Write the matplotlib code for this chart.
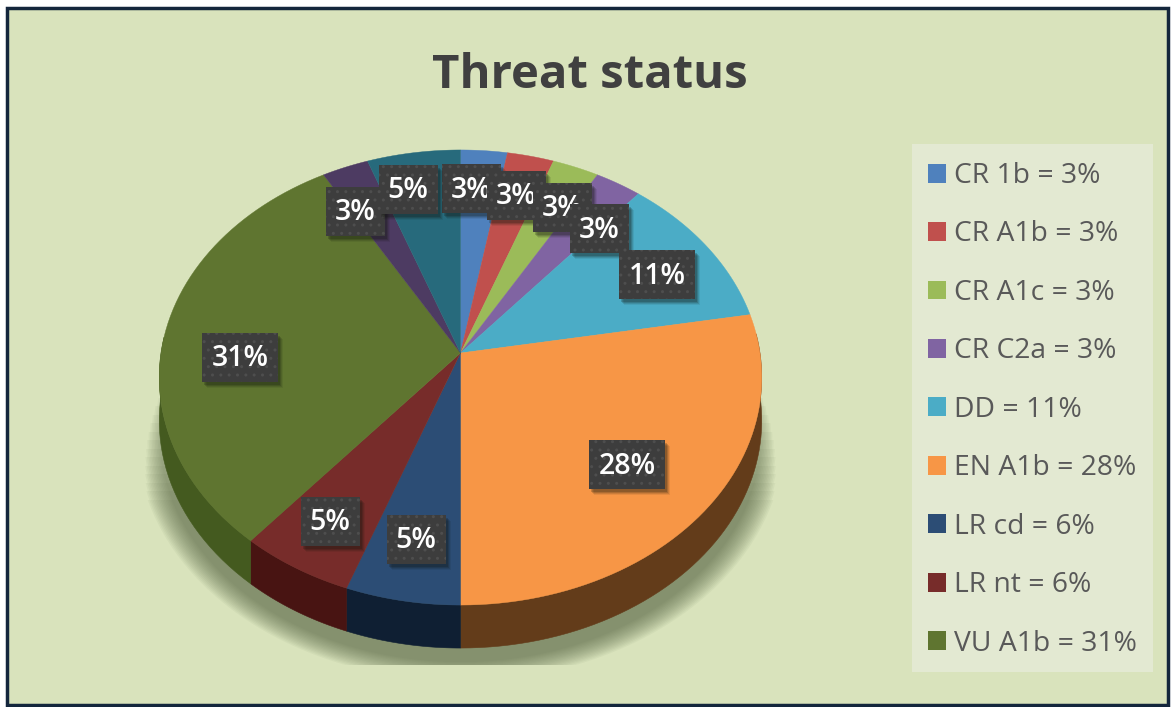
import numpy as np
import matplotlib
matplotlib.use("Agg")
import matplotlib.pyplot as plt
from matplotlib.patches import Rectangle, Patch

plt.rcParams['font.family'] = ['Open Sans', 'DejaVu Sans']

# pie slices, clockwise from the top (counts behind the percentages)
counts = [1, 1, 1, 1, 4, 10, 2, 2, 11, 1, 2]
pie_labels = ["3%", "3%", "3%", "3%", "11%", "28%", "5%", "5%", "31%", "3%", "5%"]
colors = ["#4f81bd", "#c0504d", "#9bbb59", "#8064a2", "#4bacc6", "#f79646",
          "#2c4d75", "#772c2a", "#5f7530", "#4d3b62", "#276a7c"]
wall_colors = ["#2a4566", "#652a28", "#55662f", "#453758", "#28606e", "#633c1a",
               "#0f1f33", "#481412", "#445a1f", "#2b2038", "#143c48"]

# label box centres in pixels
label_x = [471, 516, 562, 599, 657, 627, 416, 330, 240, 355, 408]
label_y = [188, 195, 207, 228, 274, 464, 539, 521, 357, 211, 189]

legend_names = ["CR 1b = 3%", "CR A1b = 3%", "CR A1c = 3%", "CR C2a = 3%", "DD = 11%",
                "EN A1b = 28%", "LR cd = 6%", "LR nt = 6%", "VU A1b = 31%"]

# pie geometry, perspective tilted disc
cx, cy = 460.5, 353
R, A, b = 299.5, 224.9, 0.1077
depth = 43


def rim(t):
    # t is the clockwise angle from the top, in radians
    d = 1 + b * np.cos(t)
    return cx + R * np.sin(t) / d, cy - A * np.cos(t) / d


fig = plt.figure(figsize=(11.72, 7.07), dpi=100, facecolor="white")
ax = fig.add_axes([0, 0, 1, 1])
ax.set_xlim(0, 1172)
ax.set_ylim(707, 0)
ax.axis("off")

# background panel
ax.add_patch(Rectangle((7, 8), 1161, 697, facecolor="#d9e3bc", edgecolor="#14263c", linewidth=2.5, zorder=0))

# soft shadow under the pie, outer layers start lower so the sides fade out upward
tt = np.linspace(0, 2 * np.pi, 240)
sx, sy = rim(tt)
for grow, top in zip(np.linspace(1.075, 1.0, 16), np.linspace(500, 372, 16)):
    shadow = ax.fill(cx + (sx - cx) * grow, cy + depth + (sy - cy) * grow + 14, color="#4e5a3c", alpha=0.05,
                     linewidth=0, zorder=1)[0]
    shadow.set_clip_path(Rectangle((0, top), 1172, 665 - top, transform=ax.transData))

edges = np.cumsum([0] + counts) / sum(counts) * 2 * np.pi

# side wall, only the near half of the rim shows
for i in range(len(counts)):
    t = np.linspace(edges[i], edges[i + 1], 60)
    t = t[(t >= np.pi / 2 - 0.1) & (t <= 3 * np.pi / 2 + 0.1)]
    if len(t) < 2:
        continue
    x, y = rim(t)
    ax.fill(np.r_[x, x[::-1]], np.r_[y, y[::-1] + depth], color=wall_colors[i], linewidth=0.4, zorder=2)

# top face
for i in range(len(counts)):
    t = np.linspace(edges[i], edges[i + 1], 60)
    x, y = rim(t)
    ax.fill(np.r_[cx, x], np.r_[cy, y], color=colors[i], linewidth=0.3, zorder=3)

# data labels, each later box sits on top of the one before
for i in range(len(counts)):
    w = 76 if len(pie_labels[i]) == 3 else 59
    x0, y0 = label_x[i] - w / 2, label_y[i] - 24.5
    for off, alpha in [(6, 0.08), (5, 0.12), (4, 0.16), (3, 0.2)]:
        ax.add_patch(Rectangle((x0 + off - 1, y0 + off), w, 49, facecolor="#10140c", edgecolor="none", alpha=alpha,
                               zorder=5 + i))
    ax.add_patch(Rectangle((x0, y0), w, 49, facecolor="#3d3d3d", edgecolor="#4e4e4e", hatch="..", linewidth=0,
                           zorder=5 + i))
    ax.text(label_x[i], label_y[i] + 2, pie_labels[i], color="white", fontsize=20.5, fontweight="semibold",
            ha="center", va="center", zorder=5 + i)

ax.text(590, 75, "Threat status", color="#404040", fontsize=34, fontweight="bold", ha="center", va="center")

# legend
ax.add_patch(Rectangle((912, 144), 241, 528, facecolor="#e3e9d2", edgecolor="none", zorder=1))
handles = [Patch(facecolor=colors[i], edgecolor="none", label=legend_names[i]) for i in range(len(legend_names))]
leg = ax.legend(handles=handles, loc="upper left", bbox_to_anchor=(928 / 1172, 1 - 162 / 707), frameon=False,
                fontsize=20.3, labelcolor="#595959", handlelength=0.65, handleheight=0.65, handletextpad=0.28,
                labelspacing=1.08, borderpad=0.0, borderaxespad=0.0)

fig.savefig("out.png", dpi=100)
